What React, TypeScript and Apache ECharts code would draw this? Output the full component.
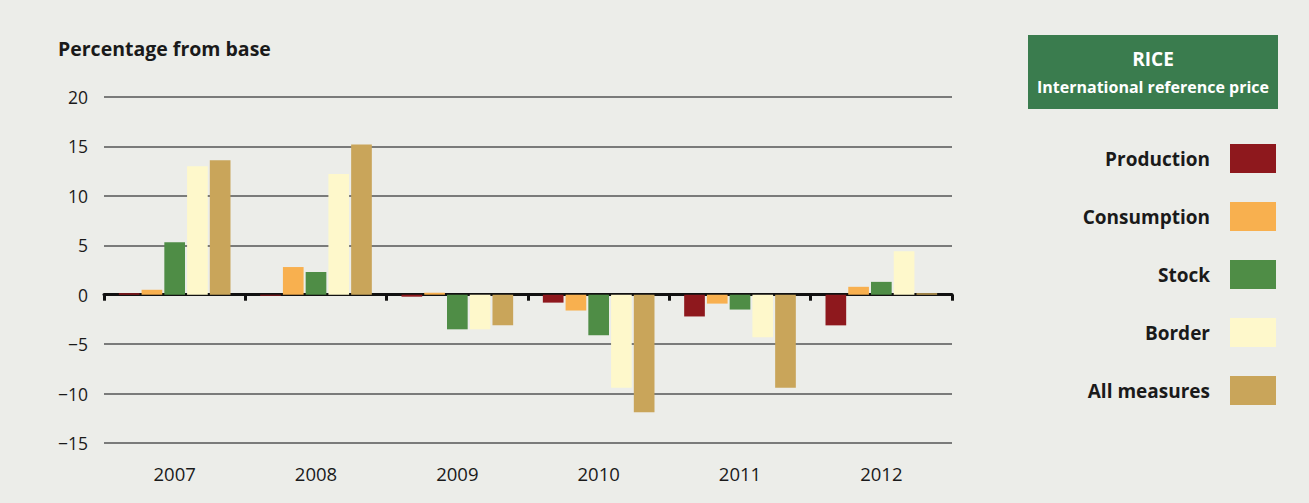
import React, { useEffect, useRef } from "react";
import * as echarts from "echarts";

const years = ["2007", "2008", "2009", "2010", "2011", "2012"];
const production = [0.15, -0.1, -0.2, -0.8, -2.2, -3.1];
const consumption = [0.5, 2.8, 0.2, -1.6, -0.9, 0.8];
const stock = [5.3, 2.3, -3.5, -4.1, -1.5, 1.3];
const border = [13.0, 12.2, -3.5, -9.4, -4.3, 4.4];
const allMeasures = [13.6, 15.2, -3.1, -11.9, -9.4, 0.15];
const seriesNames = ["Production", "Consumption", "Stock", "Border", "All measures"];
const seriesColors = ["#8E181D", "#F8B04F", "#4F8D46", "#FEF8CB", "#C9A55A"];

const FONT = "'Open Sans', 'Noto Sans', sans-serif";

export default function App() {
  const ref = useRef<HTMLDivElement>(null);
  useEffect(() => {
    document.body.style.margin = "0";
    document.body.style.background = "#ECEDE9";
    const chart = echarts.init(ref.current!, null, { renderer: "svg" });
    const data = [production, consumption, stock, border, allMeasures];
    chart.setOption({
      animation: false,
      backgroundColor: "#ECEDE9",
      textStyle: { fontFamily: FONT },
      grid: { left: 104, right: 357, top: 97, bottom: 60 },
      legend: {
        orient: "vertical",
        right: 28,
        top: 139,
        align: "right",
        itemWidth: 46,
        itemHeight: 29,
        itemGap: 29,
        icon: "rect",
        selectedMode: false,
        data: seriesNames,
        textStyle: {
          fontFamily: FONT,
          fontSize: 19,
          fontWeight: "bold",
          color: "#1a1a1a",
          padding: [0, 15, 0, 0],
        },
      },
      graphic: [
        {
          type: "rect",
          left: 1028,
          top: 35,
          shape: { width: 250, height: 74 },
          style: { fill: "#3A7C4E" },
        },
        {
          type: "text",
          x: 1153,
          y: 59,
          style: {
            text: "RICE",
            fill: "#ffffff",
            font: `bold 19px ${FONT}`,
            textAlign: "center",
            textVerticalAlign: "middle",
          },
        },
        {
          type: "text",
          x: 1153,
          y: 87,
          style: {
            text: "International reference price",
            fill: "#ffffff",
            font: `bold 16px ${FONT}`,
            textAlign: "center",
            textVerticalAlign: "middle",
          },
        },
        {
          type: "text",
          x: 58,
          y: 48,
          style: {
            text: "Percentage from base",
            fill: "#1a1a1a",
            font: `bold 19.5px ${FONT}`,
            textVerticalAlign: "middle",
          },
        },
      ],
      xAxis: [
        {
          type: "category",
          data: years,
          axisLine: { show: true, onZero: true, lineStyle: { color: "#111", width: 3 } },
          axisTick: { show: true, length: 6, lineStyle: { color: "#111", width: 3 } },
          axisLabel: { show: false },
          splitLine: { show: false },
        },
        {
          type: "category",
          data: years,
          position: "bottom",
          axisLine: { show: false, onZero: false },
          axisTick: { show: false },
          axisLabel: { show: true, color: "#1a1a1a", fontSize: 18.5, fontFamily: FONT, margin: 21 },
        },
      ],
      yAxis: {
        type: "value",
        min: -15,
        max: 20,
        interval: 5,
        axisLine: { show: false },
        axisTick: { show: false },
        splitLine: { show: true, lineStyle: { color: "#555", width: 1.5 } },
        axisLabel: {
          color: "#1a1a1a",
          fontSize: 17.5,
          fontFamily: FONT,
          margin: 16,
          formatter: (v: number) => String(v).replace("-", "\u2212"),
        },
      },
      series: seriesNames.map((name, i) => ({
        name,
        type: "bar",
        xAxisIndex: 0,
        data: data[i],
        barCategoryGap: "21%",
        barGap: "10%",
        itemStyle: { color: seriesColors[i] },
      })),
    });
    return () => chart.dispose();
  }, []);
  return <div ref={ref} style={{ width: 1309, height: 503 }} />;
}
